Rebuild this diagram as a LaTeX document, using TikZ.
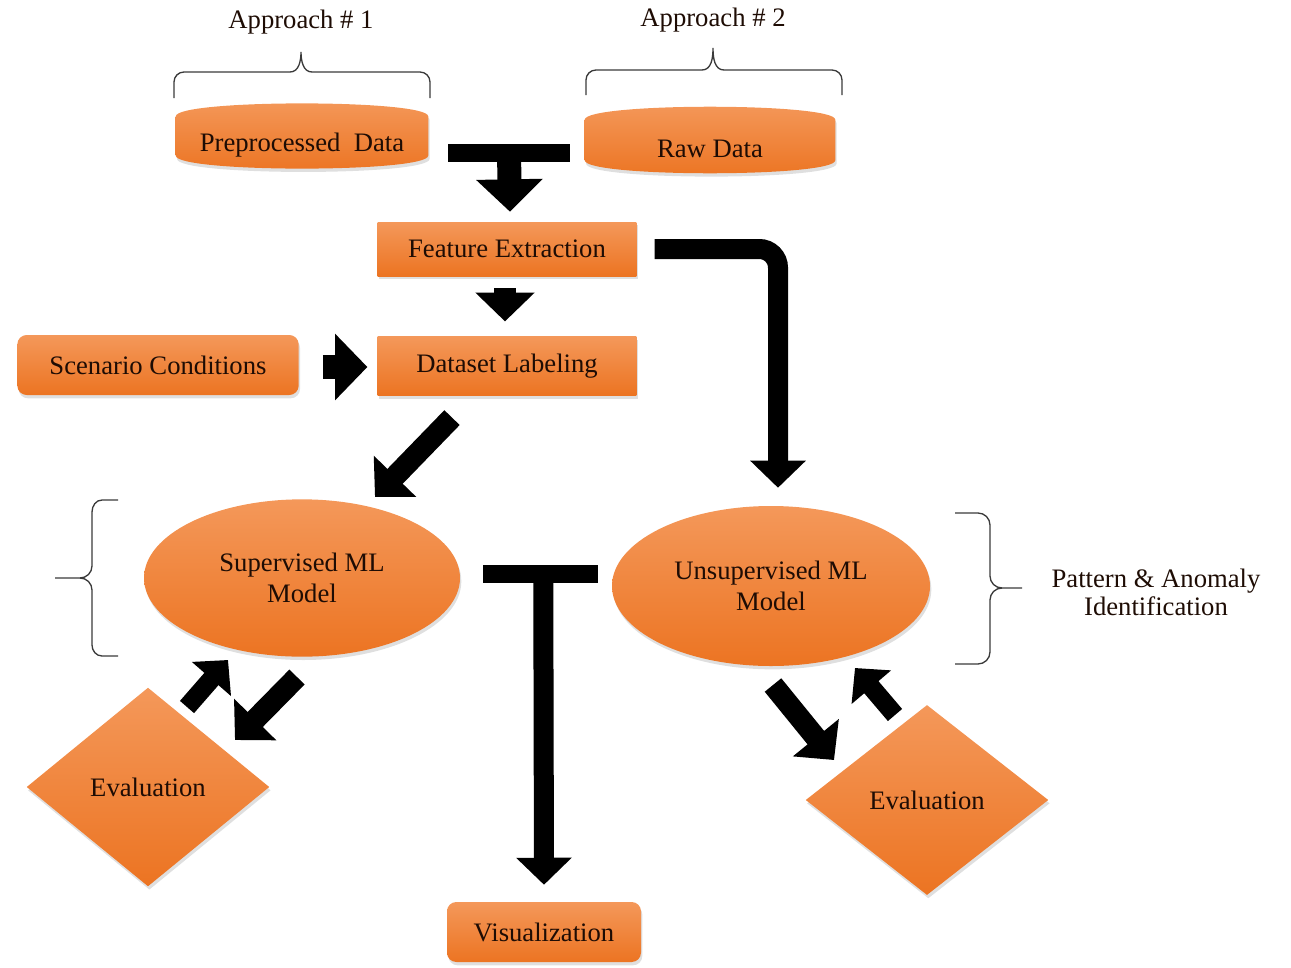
\documentclass[tikz,border=0pt]{standalone}
\usepackage{fontspec}
\setmainfont{Liberation Serif}
\usetikzlibrary{arrows.meta,shapes.geometric,shadows,calc}
\definecolor{orgtop}{HTML}{F4985A}
\definecolor{orgbot}{HTML}{EC7422}
\definecolor{txt}{HTML}{1E0C04}
\definecolor{brc}{HTML}{3A3A3A}
\begin{document}
\begin{tikzpicture}[x=0.75pt,y=-0.75pt,
  fillsty/.style={top color=orgtop,bottom color=orgbot,draw=none,
     drop shadow={shadow xshift=1pt,shadow yshift=-2.5pt,opacity=0.25}},
  blk/.style={fillsty,text=txt,font=\fontsize{20}{23}\selectfont,inner sep=0pt},
  lbl/.style={text=txt,font=\fontsize{20}{23}\selectfont,align=center},
  txtonly/.style={text=txt,font=\fontsize{20}{23}\selectfont,inner sep=0pt},
  brace/.style={draw=brc,line width=1pt},
  bar/.style={line width=13.5pt,black},
  tarrow/.style={line width=#1,black,-{Triangle[width=2.7*#1,length=1.35*#1]}},
]
\useasboundingbox (0,0) rectangle (1291,967);

% ---------- top data sources ----------
\node[txtonly,minimum width=189pt,minimum height=47pt] (pre) at (302,136) {};
\node[txtonly,minimum width=187.5pt,minimum height=48pt] (raw) at (710,140) {};
\path[fillsty] ([yshift=-9pt]pre.north west) .. controls ([yshift=4pt]pre.north west) and ([yshift=4pt]pre.north east) .. ([yshift=-9pt]pre.north east)
   -- ([yshift=9pt]pre.south east) .. controls ([yshift=-4pt]pre.south east) and ([yshift=-4pt]pre.south west) .. ([yshift=9pt]pre.south west) -- cycle;
\path[fillsty] ([yshift=-9pt]raw.north west) .. controls ([yshift=4pt]raw.north west) and ([yshift=4pt]raw.north east) .. ([yshift=-9pt]raw.north east)
   -- ([yshift=9pt]raw.south east) .. controls ([yshift=-4pt]raw.south east) and ([yshift=-4pt]raw.south west) .. ([yshift=9pt]raw.south west) -- cycle;
\node[txtonly] (pretxt) at ($(pre.center)+(0,9)$) {Preprocessed\ \ Data};
\node[txtonly] (rawtxt) at ($(raw.center)+(0,9)$) {Raw Data};

\node[lbl] (ap1) at (301,22) {Approach \# 1};
\node[lbl] (ap2) at (713,20) {Approach \# 2};

\draw[brace] (174,98) -- (174,82) to[out=90,in=180] (184,72) -- (290,72) to[out=0,in=-90] (301,52)
   to[out=-90,in=180] (312,72) -- (420,72) to[out=0,in=90] (430,82) -- (430,98);
\draw[brace] (586,95) -- (586,80) to[out=90,in=180] (596,70) -- (702,70) to[out=0,in=-90] (713,48)
   to[out=-90,in=180] (724,70) -- (832,70) to[out=0,in=90] (842,80) -- (842,95);

% ---------- process boxes ----------
\node[blk,minimum width=194pt,minimum height=40.5pt] (fe) at (507,249) {Feature Extraction};
\node[blk,minimum width=194pt,minimum height=44pt] (dl) at (507,366) {Dataset Labeling};
\node[blk,rounded corners=7pt,minimum width=211pt,minimum height=45pt] (sc) at (158,365) {Scenario Conditions};
\node[blk,rounded corners=7pt,minimum width=145.5pt,minimum height=45pt] (vis) at (544,932) {Visualization};

\node[blk,ellipse,minimum width=237pt,minimum height=118pt,align=center] (sup) at (302,578) {Supervised ML\\Model};
\node[blk,ellipse,minimum width=238.5pt,minimum height=120pt,align=center] (uns) at (771,586) {Unsupervised ML\\Model};

\node[blk,diamond,minimum width=182pt,minimum height=149pt] (evl) at (148,787) {Evaluation};
\node[blk,diamond,minimum width=182pt,minimum height=142.5pt] (evr) at (927,800) {Evaluation};

% ---------- side braces ----------
\draw[brace] (118,500) -- (102,500) to[out=180,in=90] (92,512) -- (92,566) to[out=-90,in=0] (80,578) -- (55,578);
\draw[brace] (80,578) to[out=0,in=90] (92,590) -- (92,645) to[out=-90,in=180] (102,656) -- (118,656);
\draw[brace] (955,513) -- (978,513) to[out=0,in=90] (990,525) -- (990,576) to[out=-90,in=180] (1002,588) -- (1022,588);
\draw[brace] (1002,588) to[out=180,in=90] (990,600) -- (990,652) to[out=-90,in=0] (978,664) -- (955,664);
\node[lbl,inner sep=0pt] (pai) at (1156,592) {Pattern \& Anomaly\\[-2pt]Identification};

% ---------- connectors ----------
\coordinate (t1l) at ($(pre.east)+(20,17)$);
\coordinate (t1r) at ($(raw.west)+(-15,13)$);
\coordinate (t1m) at ($(t1l)!0.5!(t1r)$);
\draw[bar] (t1l) -- (t1r);
\draw[tarrow=18pt] (t1m) -- ($(fe.north)+(3,-10)$);

\draw[tarrow=16pt] ($(fe.south)+(-2,12)$) -- ($(dl.north)+(-2,-15)$);
\draw[tarrow=18pt] ($(sc.east)+(24,2)$) -- ($(dl.west)+(-10,1)$);

\draw[tarrow=15pt,rounded corners=14pt] ($(fe.east)+(18,0)$) -| ($(uns.north)+(7,-18)$);

\draw[tarrow=16pt] ($(dl.south)+(-55,22)$) -- ($(sup.center)+(73,-81)$);

\coordinate (t2l) at ($(sup.east)+(23,-4)$);
\coordinate (t2r) at ($(uns.west)+(-14,-12)$);
\draw[bar] (t2l) -- (t2r);
\draw[tarrow=15pt] ($(t2l)+(60,0)$) -- ($(vis.north)+(0,-17)$);

\draw[tarrow=14pt] ($(evl.center)+(39,-80)$) -- ($(sup.center)+(-74,82)$);
\draw[tarrow=16pt] ($(sup.center)+(-5,99)$) -- ($(evl.center)+(87,-47)$);
\draw[tarrow=16pt] ($(uns.center)+(2,99)$) -- ($(evr.center)+(-93,-40)$);
\draw[tarrow=14pt] ($(evr.center)+(-32,-85)$) -- ($(uns.center)+(84,82)$);
\end{tikzpicture}
\end{document}
